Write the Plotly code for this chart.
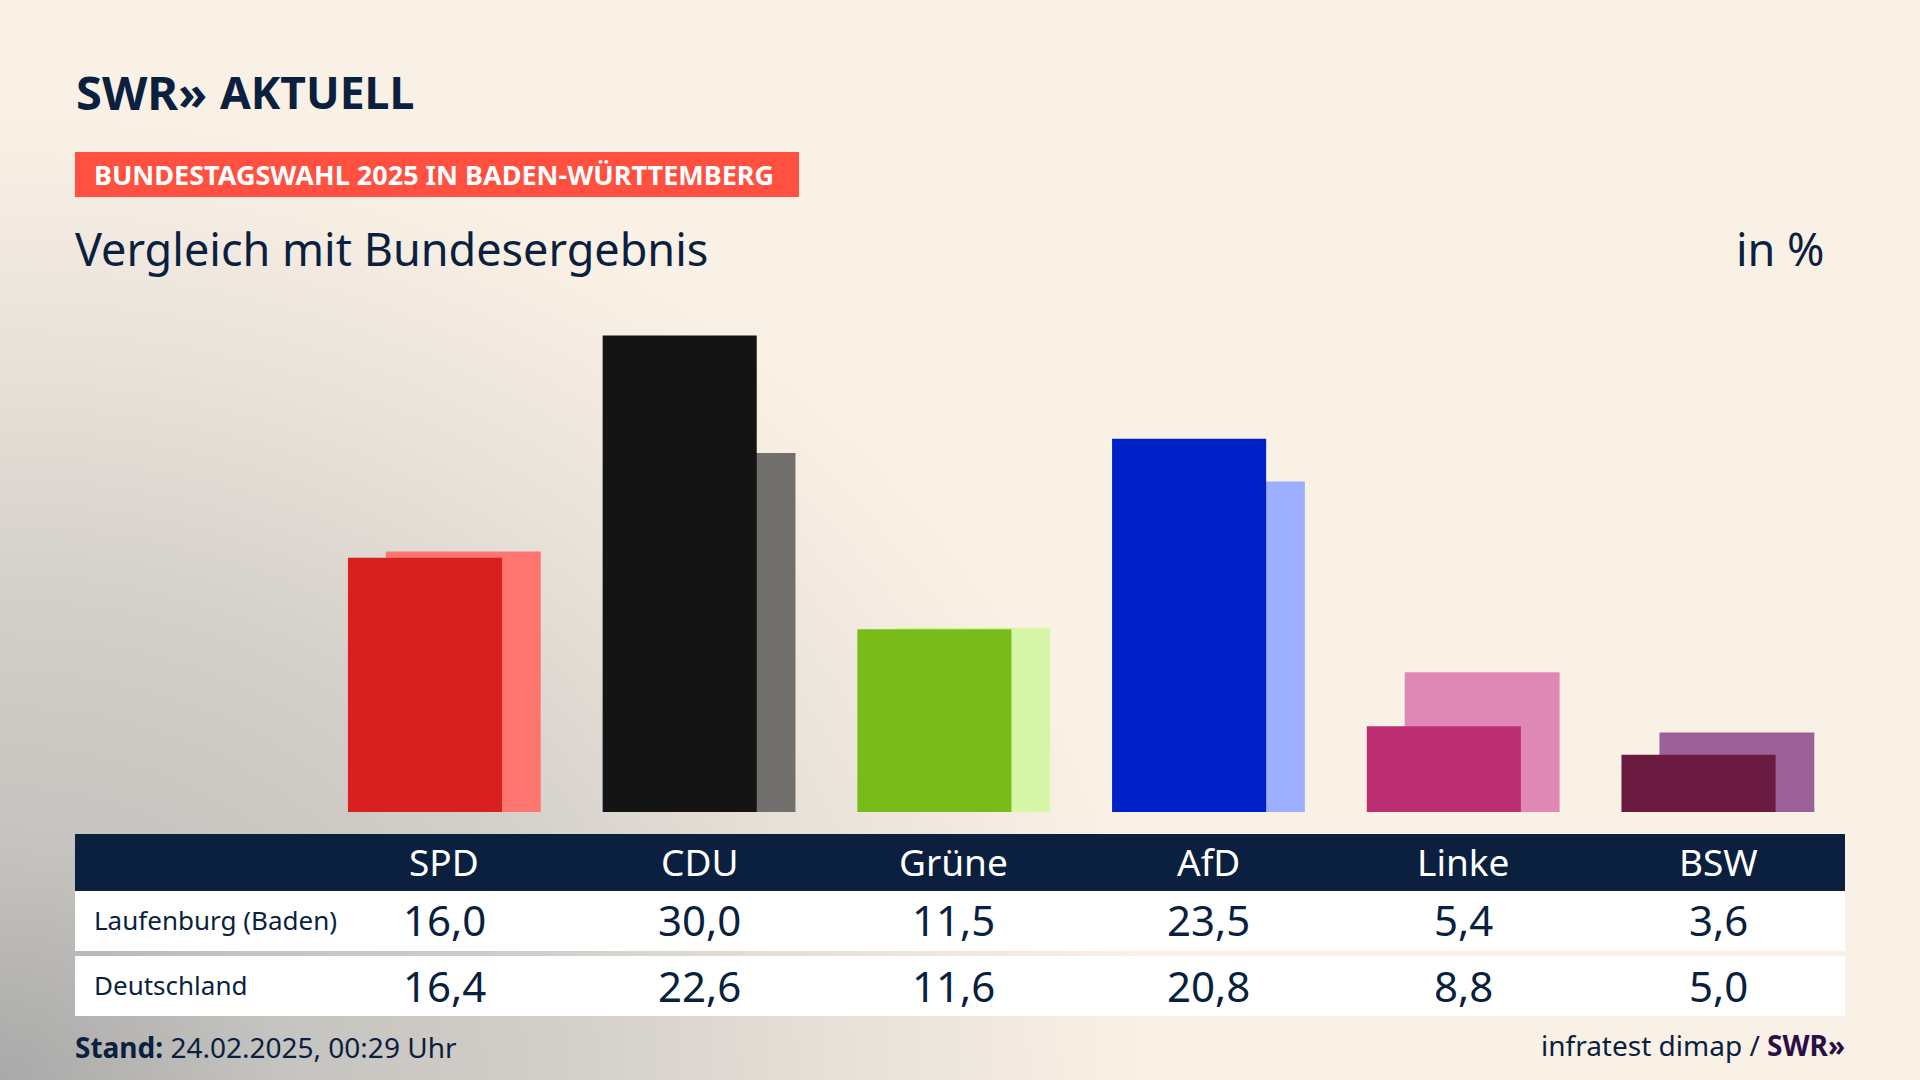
import plotly.graph_objects as go

# Zweitstimmen in %
parties = ["SPD", "CDU", "Grüne", "AfD", "Linke", "BSW"]
laufenburg = [16.0, 30.0, 11.5, 23.5, 5.4, 3.6]
deutschland = [16.4, 22.6, 11.6, 20.8, 8.8, 5.0]
colors_local = ["#D8201E", "#141414", "#79BC1A", "#0020C8", "#BD2E73", "#6B1A40"]
colors_federal = ["#FF7570", "#71706C", "#D6F7A8", "#9CAEFF", "#DF88B6", "#9C6098"]
row_names = ["Laufenburg (Baden)", "Deutschland"]

NAVY = "#0B1F3F"
FONT = "Noto Sans"
W, H = 1920, 1080


def py(p):
    # pixel from top -> paper
    return 1 - p / H


def px(p):
    return p / W


def label(text, x, y, size, color=NAVY, anchor="left", xref="paper"):
    fig.add_annotation(
        text=text, x=px(x) if xref == "paper" else x, y=py(y), xref=xref, yref="paper",
        xanchor=anchor, yanchor="middle", showarrow=False,
        font=dict(family=FONT, size=size, color=color),
    )


def box(x0, y0, x1, y1, color):
    fig.add_shape(
        type="rect", xref="paper", yref="paper", x0=px(x0), x1=px(x1), y0=py(y1), y1=py(y0),
        fillcolor=color, line_width=0, layer="below",
    )


def fmt(v):
    return f"{v:.1f}".replace(".", ",")


fig = go.Figure()

# Bundesergebnis liegt hinter dem lokalen Balken
fig.add_trace(go.Bar(x=parties, y=deutschland, name="Deutschland", marker_color=colors_federal,
                     marker_line_width=0, offset=-0.23, width=0.608))
fig.add_trace(go.Bar(x=parties, y=laufenburg, name="Laufenburg (Baden)", marker_color=colors_local,
                     marker_line_width=0, offset=-0.379, width=0.605))

fig.update_layout(
    width=W, height=H, margin=dict(l=0, r=0, t=0, b=0, pad=0),
    barmode="overlay", showlegend=False,
    paper_bgcolor="rgba(0,0,0,0)", plot_bgcolor="rgba(0,0,0,0)",
    xaxis=dict(range=[-1.745, 5.793], visible=False, categoryorder="array", categoryarray=parties),
    yaxis=dict(range=[-16.87, 51.12], visible=False),
)

# Kopf
label("<b>SWR»</b>", 74, 92, 47)
label("<b>AKTUELL</b>", 218, 92, 44.5)
box(75, 152, 799, 197, "#FF5040")
label("<b>BUNDESTAGSWAHL 2025 IN BADEN-WÜRTTEMBERG</b>", 92, 175, 27, "white")
label("Vergleich mit Bundesergebnis", 73, 248, 45)
label("in %", 1827, 248, 45, anchor="right")

# Tabelle
box(75, 834, 1845, 891, NAVY)
box(75, 891, 1845, 951, "white")
box(75, 956, 1845, 1016, "white")
label(row_names[0], 92, 920, 26)
label(row_names[1], 92, 985, 26)
for i, party in enumerate(parties):
    label(party, party, 861, 37, "white", "center", "x")
    label(fmt(laufenburg[i]), party, 919, 42, NAVY, "center", "x")
    label(fmt(deutschland[i]), party, 985, 42, NAVY, "center", "x")

# Fuss
label("<b>Stand:</b> 24.02.2025, 00:29 Uhr", 73, 1047, 28)
label("infratest dimap / <b><span style='color:#2A0F45'>SWR»</span></b>", 1847, 1045, 28, anchor="right")

background = """
document.body.style.margin = '0';
document.body.style.overflow = 'hidden';
document.documentElement.style.background = '#FAF1E6';
document.body.style.background = 'radial-gradient(ellipse 1150px 970px at 0px 1080px, #A9A9A9 0%, #C6C4C0 25%, #D3CFCA 50%, #E9E2D9 75%, #FAF1E6 100%)';
document.body.style.height = '1080px';
"""
fig.write_html("out.html", post_script=background, config=dict(displayModeBar=False))
